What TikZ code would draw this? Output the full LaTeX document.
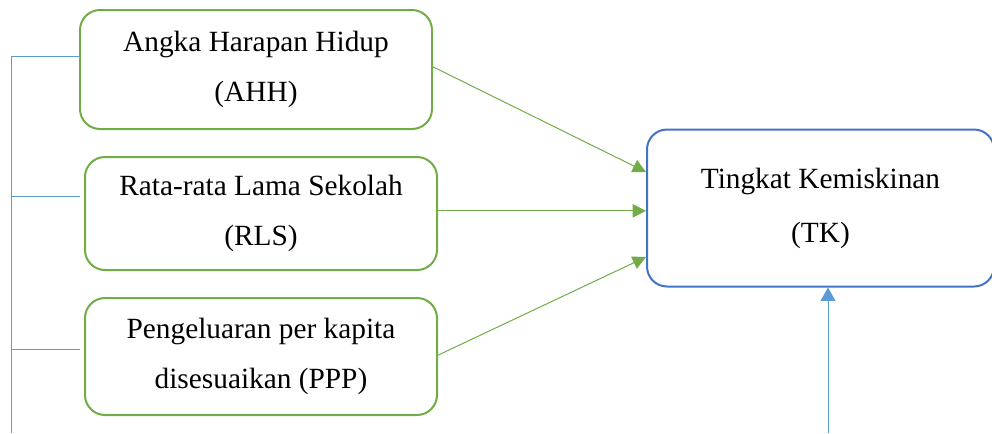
\documentclass[tikz,border=0pt]{standalone}
\usepackage{fontspec}
\setmainfont{Liberation Serif}
\usetikzlibrary{arrows.meta}
\definecolor{boxgreen}{RGB}{112,173,71}
\definecolor{boxblue}{RGB}{68,114,196}
\definecolor{linkblue}{RGB}{91,155,213}

\begin{document}
\begin{tikzpicture}[x = 0.75pt, y = -0.75pt, font = \fontsize{22}{37.5}\selectfont,
  var/.style = {draw = boxgreen, line width = 1.5pt, rounded corners = 15pt, align = center,
    minimum width = 264pt, fill = white},
  dep/.style = {var, draw = boxblue, minimum width = 260.25pt, minimum height = 117.75pt},
  link/.style = {draw = boxgreen, line width = 0.75pt, -{Triangle[length = 10pt, width = 10pt]}},
  side/.style = {draw = linkblue, line width = 0.75pt}]
\useasboundingbox (0,0) rectangle (992,433);
\node [var, minimum height = 89.25pt] (ahh) at (256,69.5) {Angka Harapan Hidup\\(AHH)};
\node [var, minimum height = 84.75pt] (rls) at (261,213.5) {Rata-rata Lama Sekolah\\(RLS)};
\node [var, minimum height = 87.75pt] (ppp) at (261,356.5) {Pengeluaran per kapita\\disesuaikan (PPP)};
\node [dep] (tk) at (820.5,208) {Tingkat Kemiskinan\\[3pt](TK)};
% arrows into TK
\draw [link] ([yshift = 2pt]ahh.east) -- ([yshift = 27pt]tk.west);
\draw [link] ([yshift = 2pt]rls.east) -- ([yshift = 2pt]tk.west |- rls.east);
\draw [link] ([yshift = 1pt]ppp.east) -- ([yshift = -36.75pt]tk.west);
% bracket on the left
\coordinate (top) at (11,56);
\coordinate (bot) at (11,433);
\draw [side] (top) -- (bot);
\draw [side] (top) -- (top -| ahh.west);
\draw [side] ([yshift = 12.4pt]bot |- rls.west) -- ([xshift = -3pt, yshift = 12.4pt]rls.west);
\draw [side] ([yshift = 5.6pt]bot |- ppp.west) -- ([xshift = -3pt, yshift = 5.6pt]ppp.west);
% arrow from below
\coordinate (tkin) at (828,433);
\draw [side, -{Triangle[length = 10pt, width = 11pt]}] (tkin) -- (tkin |- tk.south);
\end{tikzpicture}
\end{document}
